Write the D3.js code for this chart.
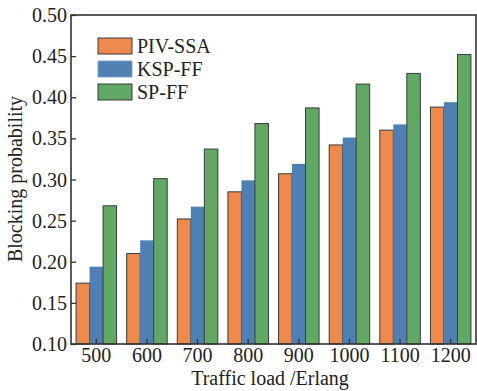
<!DOCTYPE html>
<html>
  <head>
    <title>Blocking probability</title>
    <script src="https://d3js.org/d3.v7.min.js"></script>
    <style>
      body { margin: 0; background: #fff; }
      text { font-family: "Liberation Serif", "Times New Roman", serif; fill: #222; }
    </style>
  </head>
  <body>
    <svg width="477" height="391"></svg>
    <script>
      // data
      const loads = ['500', '600', '700', '800', '900', '1000', '1100', '1200'];
      const seriesNames = ['PIV-SSA', 'KSP-FF', 'SP-FF'];
      const pivSsa = [0.174, 0.210, 0.252, 0.285, 0.307, 0.342, 0.360, 0.388];
      const kspFf  = [0.194, 0.226, 0.267, 0.299, 0.319, 0.351, 0.367, 0.394];
      const spFf   = [0.268, 0.301, 0.337, 0.368, 0.387, 0.416, 0.429, 0.452];
      const yTicks = [0.10, 0.15, 0.20, 0.25, 0.30, 0.35, 0.40, 0.45, 0.50];

      const colors = ['#ef8a4f', '#4f80b3', '#62a865'];
      const strokes = ['#3a3a3a', 'none', '#3a3a3a'];
      const values = [pivSsa, kspFf, spFf];

      const svg = d3.select('svg');
      const plotL = 71, plotR = 476, plotT = 15, plotB = 344;

      const x = d3.scaleBand().domain(loads).range([plotL, plotR])
        .paddingInner(0.2).paddingOuter(0.1);
      const xSub = d3.scaleBand().domain(seriesNames).range([0, x.bandwidth()]);
      const y = d3.scaleLinear().domain([0.1, 0.5]).range([plotB, plotT]);

      // bars
      seriesNames.forEach((name, s) => {
        svg.append('g').selectAll('rect').data(loads)
          .enter().append('rect')
            .attr('x', d => x(d) + xSub(name))
            .attr('y', (d, i) => y(values[s][i]))
            .attr('width', xSub.bandwidth())
            .attr('height', (d, i) => plotB - y(values[s][i]))
            .attr('fill', colors[s])
            .attr('stroke', strokes[s])
            .attr('stroke-width', 1);
      });

      // frame
      svg.append('rect')
        .attr('x', plotL).attr('y', plotT)
        .attr('width', plotR - plotL).attr('height', plotB - plotT)
        .attr('fill', 'none').attr('stroke', '#333').attr('stroke-width', 1.6);

      // y axis, ticks inside
      const yAxis = svg.append('g')
        .attr('transform', `translate(${plotL},0)`)
        .call(d3.axisRight(y).tickValues(yTicks).tickSize(5).tickFormat(''));
      yAxis.select('.domain').remove();
      yAxis.selectAll('line').attr('stroke', '#333').attr('stroke-width', 1.3);
      svg.append('g').selectAll('text').data(yTicks)
        .enter().append('text')
          .attr('x', plotL - 4)
          .attr('y', d => y(d) + 7)
          .attr('text-anchor', 'end')
          .attr('font-size', 20)
          .text(d => d.toFixed(2));

      // x axis, ticks inside
      const xAxis = svg.append('g')
        .attr('transform', `translate(0,${plotB})`)
        .call(d3.axisTop(x).tickSize(5).tickFormat(''));
      xAxis.select('.domain').remove();
      xAxis.selectAll('line').attr('stroke', '#333').attr('stroke-width', 1.3);
      svg.append('g').selectAll('text').data(loads)
        .enter().append('text')
          .attr('x', d => x(d) + x.bandwidth() / 2)
          .attr('y', 362)
          .attr('text-anchor', 'middle')
          .attr('font-size', 20)
          .text(d => d);

      // axis titles
      svg.append('text')
        .attr('x', 270).attr('y', 385)
        .attr('text-anchor', 'middle')
        .attr('font-size', 20)
        .text('Traffic load /Erlang');
      svg.append('text')
        .attr('transform', 'translate(22,179) rotate(-90)')
        .attr('text-anchor', 'middle')
        .attr('font-size', 20)
        .text('Blocking probability');

      // legend
      const legend = svg.append('g').attr('transform', 'translate(98,38)');
      seriesNames.forEach((name, s) => {
        legend.append('rect')
          .attr('x', 0).attr('y', s * 23)
          .attr('width', 34).attr('height', 16)
          .attr('fill', colors[s])
          .attr('stroke', s === 1 ? '#7ea3cc' : '#3a3a3a')
          .attr('stroke-width', 1);
        legend.append('text')
          .attr('x', 39).attr('y', s * 23 + 15)
          .attr('font-size', 20)
          .text(name);
      });
    </script>
  </body>
</html>
